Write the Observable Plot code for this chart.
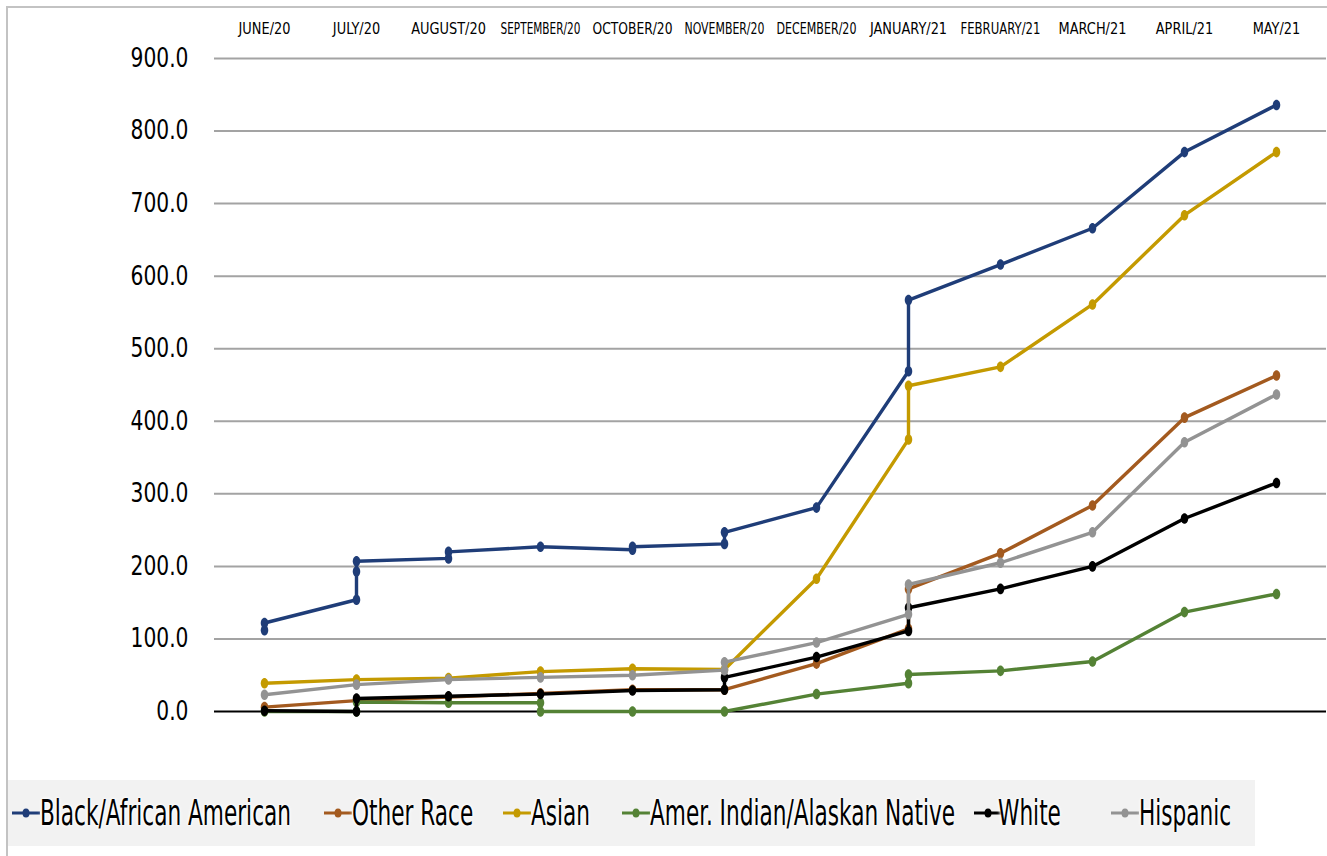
<!DOCTYPE html>
<html>
<head>
<meta charset="utf-8">
<script src="https://cdn.jsdelivr.net/npm/d3@7"></script>
<script src="https://cdn.jsdelivr.net/npm/@observablehq/plot@0.6"></script>
<style>
  html, body { margin: 0; padding: 0; background: #fff; }
  #wrap { position: relative; width: 1327px; height: 856px; overflow: hidden; font-family: "DejaVu Sans Condensed", "DejaVu Sans", sans-serif; }
  #frame { position: absolute; left: 6px; top: 6px; right: -4px; bottom: -4px; border-left: 2px solid #c3c3c3; border-top: 2px solid #c3c3c3; }
  #chart { position: absolute; left: 0; top: 0; }
  #legend { position: absolute; left: 8px; top: 780px; width: 1247px; height: 66px; background: #f2f2f2; }
  .mk { position: absolute; top: 27px; }
  .lt { position: absolute; top: 0; height: 66px; line-height: 66px; font-size: 32px; color: #000; white-space: nowrap; transform-origin: left center; text-shadow: 0 0 3px #fff, 0 0 3px #fff, 0 0 5px #fff; }
</style>
</head>
<body>
<div id="wrap">
  <div id="frame"></div>
  <div id="chart"></div>
  <div id="legend"></div>
</div>
<script>
const months = ["JUNE/20","JULY/20","AUGUST/20","SEPTEMBER/20","OCTOBER/20","NOVEMBER/20","DECEMBER/20","JANUARY/21","FEBRUARY/21","MARCH/21","APRIL/21","MAY/21"];
const yTicks = [0,100,200,300,400,500,600,700,800,900];

// [month index, value]
const blackAfricanAmerican = [[0,112],[0,122],[1,154],[1,193],[1,207],[2,211],[2,220],[3,227],[4,223],[4,227],[5,231],[5,247],[6,281],[7,469],[7,567],[8,616],[9,666],[10,771],[11,836]];
const otherRace = [[0,6],[1,15],[2,20],[3,25],[4,30],[5,30],[6,66],[7,114],[7,169],[8,218],[9,284],[10,405],[11,463]];
const asian = [[0,39],[1,44],[2,46],[3,55],[4,59],[5,58],[6,183],[7,375],[7,449],[8,475],[9,561],[10,684],[11,771]];
const amerIndian = [[0,0],[1,0],[1,13],[2,12],[3,12],[3,0],[4,0],[5,0],[6,24],[7,39],[7,51],[8,56],[9,69],[10,137],[11,162]];
const white = [[0,1],[1,0],[1,18],[2,21],[3,24],[4,29],[5,30],[5,47],[6,75],[7,111],[7,143],[8,169],[9,200],[10,266],[11,315]];
const hispanic = [[0,23],[1,37],[2,44],[3,47],[4,50],[5,57],[5,68],[6,95],[7,134],[7,175],[8,205],[9,247],[10,371],[11,437]];

const seriesNames = ["Black/African American","Other Race","Asian","Amer. Indian/Alaskan Native","White","Hispanic"];
const seriesColors = ["#1f3d78","#a35a1f","#c49a00","#548235","#000000","#939393"];
const seriesValues = [blackAfricanAmerican, otherRace, asian, amerIndian, white, hispanic];

const rows = seriesValues.flatMap((vals, i) => vals.map(([m, v]) => ({series: seriesNames[i], month: months[m], value: v})));

const font = '"DejaVu Sans Condensed", "DejaVu Sans", sans-serif';

// vertically elongated marker, like the reference
const ellipse = {
  draw(ctx, size) {
    const r = Math.sqrt(size / Math.PI);
    const rx = r * 0.85, ry = r * 1.2, k = 0.5523;
    ctx.moveTo(rx, 0);
    ctx.bezierCurveTo(rx, k * ry, k * rx, ry, 0, ry);
    ctx.bezierCurveTo(-k * rx, ry, -rx, k * ry, -rx, 0);
    ctx.bezierCurveTo(-rx, -k * ry, -k * rx, -ry, 0, -ry);
    ctx.bezierCurveTo(k * rx, -ry, rx, -k * ry, rx, 0);
    ctx.closePath();
  }
};

const seriesMarks = seriesNames.flatMap((name, i) => {
  const data = rows.filter(d => d.series === name);
  return [
    Plot.line(data, {x: "month", y: "value", stroke: seriesColors[i], strokeWidth: 3.4, curve: "linear"}),
    Plot.dot(data, {x: "month", y: "value", fill: seriesColors[i], r: 4.4, symbol: ellipse, stroke: "none"})
  ];
});

const chart = Plot.plot({
  width: 1327,
  height: 770,
  marginLeft: 214,
  marginRight: 1,
  marginTop: 58,
  marginBottom: 59,
  style: {fontFamily: font, background: "transparent", overflow: "visible"},
  x: {type: "point", domain: months, padding: 0.5, label: null},
  y: {domain: [0, 900], label: null},
  marks: [
    Plot.ruleY(yTicks.filter(d => d > 0), {stroke: "#a3a3a3", strokeWidth: 2}),
    Plot.ruleY([0], {stroke: "#000", strokeWidth: 2}),
    Plot.axisY(yTicks, {tickSize: 0, tickPadding: 26, tickFormat: d => d.toFixed(1), fontSize: 26, fill: "#000", label: null}),
    Plot.axisX({anchor: "top", tickSize: 0, tickPadding: 25, fontSize: 16, fill: "#000", label: null}),
    ...seriesMarks
  ]
});
document.getElementById("chart").appendChild(chart);

// narrow the axis texts (horizontal scale about each text's anchor) to match the condensed reference typeface
function squeeze(texts, sample, target, maxWidth) {
  const ref = texts.find(t => t.textContent === sample);
  if (!ref) return;
  const k = target / ref.getComputedTextLength();
  texts.forEach(t => {
    const w = t.getComputedTextLength();
    const kk = Math.min(k, maxWidth / w);
    const x = +(t.getAttribute("x") || 0);
    const tr = t.getAttribute("transform") || "";
    t.setAttribute("transform", `${tr} translate(${x},0) scale(${kk.toFixed(4)},1) translate(${-x},0)`);
  });
}
const allTexts = Array.from(chart.querySelectorAll("text"));
squeeze(allTexts.filter(t => /^\d+\.\d$/.test(t.textContent)), "900.0", 58, 80);
squeeze(allTexts.filter(t => months.includes(t.textContent)), "JUNE/20", 52, 80);

// legend
const legend = document.getElementById("legend");
const ns = "http://www.w3.org/2000/svg";
const markerLefts = [3, 315, 494, 613, 965, 1102];
const spans = [];
seriesNames.forEach((name, i) => {
  const s = document.createElementNS(ns, "svg");
  s.setAttribute("class", "mk");
  s.setAttribute("width", 30); s.setAttribute("height", 12);
  s.style.left = markerLefts[i] + "px";
  const ln = document.createElementNS(ns, "line");
  ln.setAttribute("x1", 1); ln.setAttribute("x2", 29); ln.setAttribute("y1", 6); ln.setAttribute("y2", 6);
  ln.setAttribute("stroke", seriesColors[i]); ln.setAttribute("stroke-width", 3);
  const c = document.createElementNS(ns, "ellipse");
  c.setAttribute("cx", 15); c.setAttribute("cy", 6); c.setAttribute("rx", 3.5); c.setAttribute("ry", 4.5); c.setAttribute("fill", seriesColors[i]);
  s.appendChild(ln); s.appendChild(c);
  legend.appendChild(s);
  const t = document.createElement("div");
  t.className = "lt";
  t.textContent = name;
  t.style.left = (markerLefts[i] + (i === 4 ? 25 : 29)) + "px";
  legend.appendChild(t);
  spans.push(t);
});
const kLegend = 251 / spans[0].getBoundingClientRect().width;
spans.forEach(t => { t.style.transform = `scale(${kLegend}, 1.12)`; });
</script>
</body>
</html>
